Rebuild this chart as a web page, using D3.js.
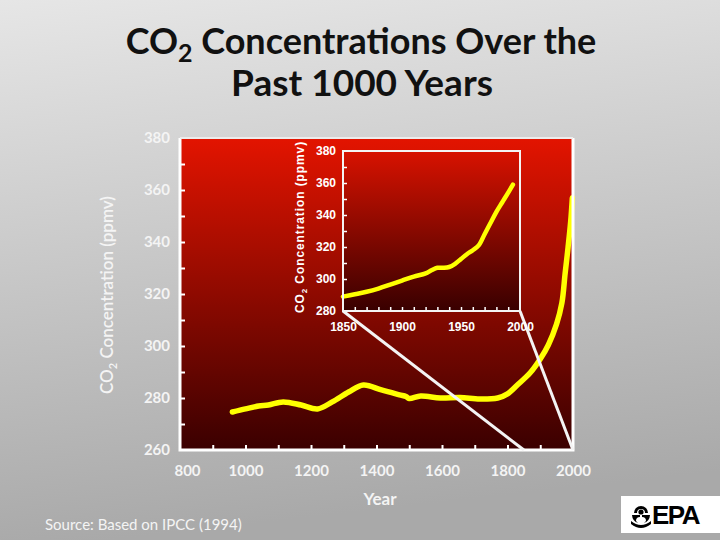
<!DOCTYPE html>
<html>
<head>
<meta charset="utf-8">
<script src="https://cdn.jsdelivr.net/npm/d3@7"></script>
<style>
  html, body { margin: 0; padding: 0; background: #c8c8c8; }
  svg { display: block; }
</style>
</head>
<body>
<svg id="chart" width="720" height="540"></svg>
<script>
// ---- Data ----
const mainYears = [960, 1000, 1040, 1070, 1115, 1170, 1220, 1265, 1315, 1360, 1415, 1470, 1490, 1500, 1535, 1595, 1655, 1715, 1770, 1800, 1830, 1870, 1900, 1925, 1950, 1966, 1976, 1985, 1993, 1998];
const mainPpm   = [274.6, 275.8, 276.9, 277.3, 278.5, 277.3, 275.8, 278.5, 282.3, 285.0, 283.1, 281.2, 280.6, 279.8, 280.8, 280.0, 280.2, 279.6, 280.0, 281.6, 285.0, 289.8, 295.0, 300.5, 308.5, 316.5, 328.0, 338.0, 348.0, 357.0];

const insetYears = [1850, 1860, 1870, 1880, 1890, 1900, 1910, 1920, 1925, 1930, 1935, 1940, 1945, 1950, 1955, 1960, 1965, 1970, 1975, 1980, 1985, 1990, 1994];
const insetPpm   = [289.0, 290.5, 292.0, 294.0, 296.5, 299.0, 301.5, 303.5, 305.5, 307.0, 307.0, 307.5, 309.5, 312.5, 315.5, 318.0, 321.0, 328.0, 335.0, 342.0, 348.0, 354.0, 359.0];

const mainYTickLabels = [260, 280, 300, 320, 340, 360, 380];
const mainXTickLabels = [800, 1000, 1200, 1400, 1600, 1800, 2000];
const insetYTickLabels = [280, 300, 320, 340, 360, 380];
const insetXTickLabels = [1850, 1900, 1950, 2000];

const titleLine1 = ["CO", "2", " Concentrations Over the"];
const titleLine2 = "Past 1000 Years";
const yTitle = ["CO", "2", " Concentration (ppmv)"];
const xTitle = "Year";
const sourceText = "Source: Based on IPCC (1994)";

// ---- Layout ----
const svg = d3.select("#chart");
const W = 720, H = 540;
const M = { left: 180, right: 573, top: 138, bottom: 450 };
const I = { left: 343, right: 520, top: 151, bottom: 311 };

const defs = svg.append("defs");
const bg = defs.append("linearGradient").attr("id", "bg").attr("x1", 0).attr("y1", 0).attr("x2", 0.15).attr("y2", 1);
bg.append("stop").attr("offset", "0%").attr("stop-color", "#e6e6e6");
bg.append("stop").attr("offset", "100%").attr("stop-color", "#a9a9a9");
const pg = defs.append("linearGradient").attr("id", "plotbg").attr("x1", 0).attr("y1", 0).attr("x2", 0).attr("y2", 1);
pg.append("stop").attr("offset", "0%").attr("stop-color", "#e31400");
pg.append("stop").attr("offset", "100%").attr("stop-color", "#3a0000");
const ig = defs.append("linearGradient").attr("id", "insetbg").attr("x1", 0).attr("y1", 0).attr("x2", 0).attr("y2", 1);
ig.append("stop").attr("offset", "0%").attr("stop-color", "#d81200");
ig.append("stop").attr("offset", "100%").attr("stop-color", "#380000");

svg.append("rect").attr("width", W).attr("height", H).attr("fill", "url(#bg)");

// ---- Title ----
const tfont = "Lato, 'Open Sans', sans-serif";
const t1 = svg.append("text").attr("x", 361).attr("y", 54).attr("text-anchor", "middle")
  .attr("font-family", tfont).attr("font-weight", 700).attr("font-size", 36).attr("fill", "#111");
t1.append("tspan").text(titleLine1[0]);
t1.append("tspan").attr("dy", 8).attr("font-size", 25).text(titleLine1[1]);
t1.append("tspan").attr("dy", -8).text(titleLine1[2]);
svg.append("text").attr("x", 362).attr("y", 96).attr("text-anchor", "middle")
  .attr("font-family", tfont).attr("font-weight", 700).attr("font-size", 37).attr("fill", "#111")
  .text(titleLine2);

// ---- Main scales ----
const x = d3.scaleLinear().domain([800, 2000]).range([M.left, M.right]);
const y = d3.scaleLinear().domain([260, 380]).range([M.bottom, M.top]);

svg.append("rect").attr("x", M.left).attr("y", M.top).attr("width", M.right - M.left).attr("height", M.bottom - M.top)
  .attr("fill", "url(#plotbg)");

// inward ticks (every 10 ppm / 100 years)
const yTicksG = svg.append("g").attr("transform", `translate(${M.left},0)`)
  .call(d3.axisRight(y).tickValues(d3.range(270, 380, 10)).tickSize(5).tickFormat(""));
yTicksG.select(".domain").remove();
yTicksG.selectAll("line").attr("stroke", "#fff").attr("stroke-width", 2);
const xTicksG = svg.append("g").attr("transform", `translate(0,${M.bottom})`)
  .call(d3.axisTop(x).tickValues(d3.range(900, 2000, 100)).tickSize(5).tickFormat(""));
xTicksG.select(".domain").remove();
xTicksG.selectAll("line").attr("stroke", "#fff").attr("stroke-width", 2);

// labels
const lfont = "Lato, 'Open Sans', sans-serif";
const yLab = svg.append("g").attr("transform", `translate(${M.left - 8},0)`)
  .call(d3.axisLeft(y).tickValues(mainYTickLabels).tickSize(0).tickPadding(2).tickFormat(d3.format("d")));
yLab.select(".domain").remove();
yLab.selectAll("text").attr("font-family", lfont).attr("font-weight", 700).attr("font-size", 15).attr("fill", "#f4f4f4");
const xLab = svg.append("g").attr("transform", `translate(0,${M.bottom + 15})`)
  .call(d3.axisBottom(x).tickValues(mainXTickLabels).tickSize(0).tickPadding(0).tickFormat(d3.format("d")));
xLab.select(".domain").remove();
xLab.selectAll("text").attr("font-family", lfont).attr("font-weight", 700).attr("font-size", 15).attr("fill", "#f4f4f4")
  .attr("dx", d => d === 800 ? 7 : 0);

// axis titles
const yt = svg.append("text").attr("transform", "translate(113,295) rotate(-90)").attr("text-anchor", "middle")
  .attr("font-family", lfont).attr("font-weight", 600).attr("font-size", 17).attr("fill", "#f4f4f4");
yt.append("tspan").text(yTitle[0]);
yt.append("tspan").attr("dy", 4).attr("font-size", 11).text(yTitle[1]);
yt.append("tspan").attr("dy", -4).text(yTitle[2]);
svg.append("text").attr("x", 380).attr("y", 505).attr("text-anchor", "middle")
  .attr("font-family", lfont).attr("font-weight", 700).attr("font-size", 17).attr("fill", "#f4f4f4").text(xTitle);

// main curve
const line = d3.line().x(d => x(d[0])).y(d => y(d[1])).curve(d3.curveCatmullRom.alpha(0.5));
svg.append("path").datum(mainYears.map((yr, i) => [yr, mainPpm[i]]))
  .attr("d", line).attr("fill", "none").attr("stroke", "#ffff00").attr("stroke-width", 5.5)
  .attr("stroke-linecap", "round").attr("stroke-linejoin", "round");

// main frame
svg.append("path").attr("d", `M${M.left},${M.top}V${M.bottom}H${M.right}V${M.top}`)
  .attr("fill", "none").attr("stroke", "#fff").attr("stroke-width", 3);
svg.append("line").attr("x1", M.left).attr("x2", M.right).attr("y1", M.top).attr("y2", M.top)
  .attr("stroke", "#ececec").attr("stroke-width", 2);

// ---- Inset ----
const xi = d3.scaleLinear().domain([1850, 2000]).range([I.left, I.right]);
const yi = d3.scaleLinear().domain([280, 380]).range([I.bottom, I.top]);

// connector lines
svg.append("line").attr("x1", xi(1850)).attr("y1", yi(280)).attr("x2", x(1850)).attr("y2", y(260))
  .attr("stroke", "#f4f4f4").attr("stroke-width", 3);
svg.append("line").attr("x1", xi(2000)).attr("y1", yi(280)).attr("x2", x(2000)).attr("y2", y(260))
  .attr("stroke", "#f4f4f4").attr("stroke-width", 3);

svg.append("rect").attr("x", I.left).attr("y", I.top).attr("width", I.right - I.left).attr("height", I.bottom - I.top)
  .attr("fill", "url(#insetbg)");

const yiT = svg.append("g").attr("transform", `translate(${I.left},0)`)
  .call(d3.axisRight(yi).tickValues(d3.range(290, 380, 10)).tickSize(4).tickFormat(""));
yiT.select(".domain").remove();
yiT.selectAll("line").attr("stroke", "#fff").attr("stroke-width", 1.5);
const xiT = svg.append("g").attr("transform", `translate(0,${I.bottom})`)
  .call(d3.axisTop(xi).tickValues(d3.range(1860, 2000, 10)).tickSize(4).tickFormat(""));
xiT.select(".domain").remove();
xiT.selectAll("line").attr("stroke", "#fff").attr("stroke-width", 1.5);

const afont = "'Liberation Sans', Arial, sans-serif";
const yiL = svg.append("g").attr("transform", `translate(${I.left - 5},0)`)
  .call(d3.axisLeft(yi).tickValues(insetYTickLabels).tickSize(0).tickPadding(0).tickFormat(d3.format("d")));
yiL.select(".domain").remove();
yiL.selectAll("text").attr("font-family", afont).attr("font-weight", 700).attr("font-size", 12).attr("fill", "#fff")
  .attr("text-anchor", "start").attr("dx", -22);
const xiL = svg.append("g").attr("transform", `translate(0,${I.bottom + 11})`)
  .call(d3.axisBottom(xi).tickValues(insetXTickLabels).tickSize(0).tickPadding(0).tickFormat(d3.format("d")));
xiL.select(".domain").remove();
xiL.selectAll("text").attr("font-family", afont).attr("font-weight", 700).attr("font-size", 12).attr("fill", "#fff");

const iyt = svg.append("text").attr("transform", "translate(304,227) rotate(-90)").attr("text-anchor", "middle")
  .attr("font-family", afont).attr("font-weight", 700).attr("font-size", 12).attr("letter-spacing", 0.9).attr("fill", "#fff");
iyt.append("tspan").text(yTitle[0]);
iyt.append("tspan").attr("dy", 3).attr("font-size", 8).text(yTitle[1]);
iyt.append("tspan").attr("dy", -3).text(yTitle[2]);

const iline = d3.line().x(d => xi(d[0])).y(d => yi(d[1])).curve(d3.curveCatmullRom.alpha(0.5));
svg.append("path").datum(insetYears.map((yr, i) => [yr, insetPpm[i]]))
  .attr("d", iline).attr("fill", "none").attr("stroke", "#ffff00").attr("stroke-width", 4.5)
  .attr("stroke-linecap", "round").attr("stroke-linejoin", "round");

svg.append("path").attr("d", `M${I.left},${I.top}V${I.bottom}H${I.right}V${I.top}Z`)
  .attr("fill", "none").attr("stroke", "#f4f4f4").attr("stroke-width", 2);

// ---- Source ----
svg.append("text").attr("x", 45).attr("y", 530).attr("font-family", lfont).attr("font-size", 15)
  .attr("fill", "#f4f4f4").text(sourceText);

// ---- EPA logo ----
const logo = svg.append("g");
logo.append("rect").attr("x", 621).attr("y", 496).attr("width", 99).attr("height", 37).attr("fill", "#fff");
const lg = logo.append("g").attr("transform", "translate(641,515)").attr("fill", "#000");
lg.append("path").attr("d", "M-7,-2 A7,7 0 0 1 7,-2 L4,-2 A4,4 0 0 0 -4,-2 Z");
lg.append("circle").attr("cx", 0).attr("cy", -3).attr("r", 2.6);
lg.append("path").attr("d", "M-9,0 L-1,0 L-1,2 A4,4 0 0 0 -5,6 L-3,8 A9,9 0 0 1 -9,0 Z");
lg.append("path").attr("d", "M9,0 L1,0 L1,2 A4,4 0 0 1 5,6 L3,8 A9,9 0 0 0 9,0 Z");
lg.append("path").attr("d", "M-10,6 Q0,14 10,6 L10,9 Q0,17 -10,9 Z");
logo.append("text").attr("x", 652).attr("y", 524).attr("font-family", afont).attr("font-weight", 700)
  .attr("font-size", 26).attr("letter-spacing", -1.5).attr("fill", "#000").text("EPA");
</script>
</body>
</html>
